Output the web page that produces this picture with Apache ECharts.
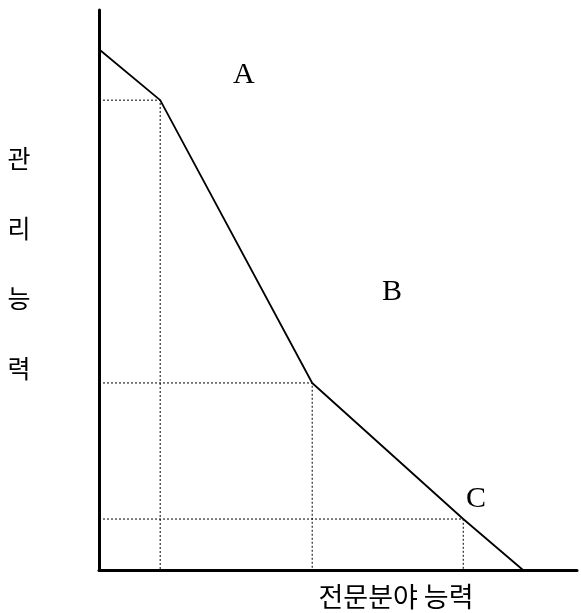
<!DOCTYPE html>
<html>
<head>
<meta charset="utf-8">
<script src="https://cdn.jsdelivr.net/npm/echarts@6/dist/echarts.min.js"></script>
<style>
html, body { margin: 0; padding: 0; background: #fff; }
#main { width: 581px; height: 613px; }
</style>
</head>
<body>
<div id="main"></div>
<script>
// 전문분야 능력 (x) / 관리능력 (y) 꺾인 경계선
var skillX = [0, 12.8, 44.6, 76.2, 88.7];
var mgmtY = [93.0, 83.9, 33.4, 9.1, 0];
var regionNames = ['A', 'B', 'C'];
var xTitle = '전문분야 능력';
var yTitle = ['관', '리', '능', '력'];

var chart = echarts.init(document.getElementById('main'));

var linePts = skillX.map(function (x, i) { return [x, mgmtY[i]]; });

var series = [{
	type: 'line',
	data: linePts,
	symbol: 'none',
	lineStyle: { color: '#000', width: 1.8 },
	z: 5
}];

// 안쪽 꺾인 점들에서 축까지 점선
for (var i = 1; i < skillX.length - 1; i++) {
	series.push({
		type: 'line',
		data: [[0, mgmtY[i]], [skillX[i], mgmtY[i]], [skillX[i], 0]],
		symbol: 'none',
		lineStyle: { color: '#000', width: 1, type: [2, 2] },
		z: 3
	});
}

var option = {
	animation: false,
	backgroundColor: '#fff',
	grid: { left: 99, right: 4, top: 10, bottom: 43 },
	xAxis: {
		type: 'value', min: 0, max: 100,
		axisLine: { show: true, lineStyle: { color: '#000', width: 3 } },
		axisTick: { show: false }, axisLabel: { show: false }, splitLine: { show: false }
	},
	yAxis: {
		type: 'value', min: 0, max: 100,
		axisLine: { show: true, lineStyle: { color: '#000', width: 3 } },
		axisTick: { show: false }, axisLabel: { show: false }, splitLine: { show: false }
	},
	graphic: [
		{ type: 'text', left: 233, top: 60, style: { text: regionNames[0], font: '30px "Liberation Serif"', fill: '#000' } },
		{ type: 'text', left: 382, top: 277, style: { text: regionNames[1], font: '30px "Liberation Serif"', fill: '#000' } },
		{ type: 'text', left: 466, top: 484, style: { text: regionNames[2], font: '30px "Liberation Serif"', fill: '#000' } },
		{ type: 'text', x: 396, y: 597, style: { text: xTitle, font: '27px "Noto Sans CJK KR"', fill: '#000', align: 'center', verticalAlign: 'middle' } },
		{ type: 'text', x: 19, y: 123, style: { text: yTitle.join('\n'), font: '25px "Noto Sans CJK KR"', lineHeight: 70, fill: '#000', align: 'center', verticalAlign: 'top' } }
	],
	series: series
};

chart.setOption(option);
</script>
</body>
</html>
